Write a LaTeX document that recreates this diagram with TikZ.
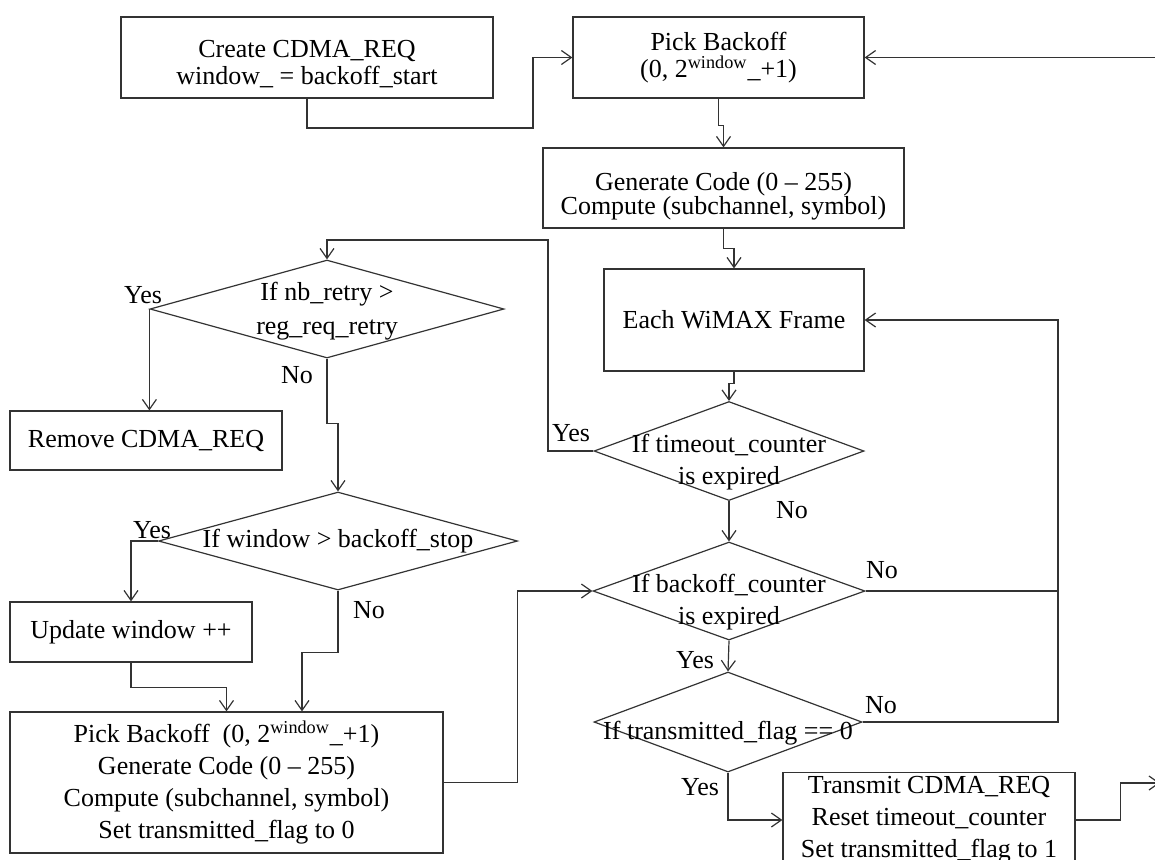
\documentclass[tikz,border=0pt]{standalone}
\usepackage{fontspec}
\setmainfont{Liberation Serif}
\usetikzlibrary{shapes.geometric, arrows.meta}

\begin{document}
\begin{tikzpicture}[x=0.5pt, y=-0.5pt,
    font=\fontsize{13}{13.5}\selectfont,
    box/.style={draw=black!80, line width=0.6pt, align=center, inner sep=2pt},
    decision/.style={draw=black!80, line width=0.6pt, diamond, inner sep=0pt},
    dtext/.style={align=center, font=\fontsize{13}{16}\selectfont},
    link/.style={draw=black!80, line width=0.6pt, -{Straight Barb[length=5pt,width=7pt]}},
    wire/.style={draw=black!80, line width=0.6pt},
    tag/.style={inner sep=0pt}]
    \useasboundingbox (0,0) rectangle (1155,859);
    \clip (0,0) rectangle (1155,859);

    % request setup
    \node[box, minimum width=186pt, minimum height=40.5pt] (create) at (307,57.5) {};
    \node[align=center] (create-t) at ([yshift=-3.5pt]create.center) {Create CDMA\_REQ\\window\_ = backoff\_start};
    \node[box, minimum width=145.5pt, minimum height=40.5pt] (pick) at (718.5,57.5) {Pick Backoff\\(0, 2\textsuperscript{window}\_+1)};
    \node[box, minimum width=180.5pt, minimum height=40pt] (gen) at (723.5,188) {};
    \node[align=center, font=\fontsize{13}{12}\selectfont] (gen-t) at ([yshift=-4pt]gen.center) {Generate Code (0 -- 255)\\Compute (subchannel, symbol)};
    \node[box, minimum width=130pt, minimum height=51pt] (frame) at (734,320) {Each WiMAX Frame};

    % checks
    \node[decision, minimum width=177pt, minimum height=49pt] (retry) at (327,309) {};
    \node[dtext, font=\fontsize{13}{17}\selectfont] (retry-t) at ([yshift=-1pt]retry.center) {If nb\_retry >\\reg\_req\_retry};
    \node[decision, minimum width=135pt, minimum height=49.5pt] (timeout) at (729,451) {};
    \node[dtext] (timeout-t) at ([yshift=-5.5pt]timeout.center) {If timeout\_counter\\is expired};
    \node[box, minimum width=136pt, minimum height=29.5pt] (remove) at (146,440.5) {Remove CDMA\_REQ};
    \node[decision, minimum width=179.5pt, minimum height=49pt] (window) at (338,541) {};
    \node[dtext] (window-t) at (window) {If window > backoff\_stop};
    \node[decision, minimum width=136pt, minimum height=49pt] (backoff) at (729,591) {};
    \node[dtext] (backoff-t) at ([yshift=-5.5pt]backoff.center) {If backoff\_counter\\is expired};
    \node[decision, minimum width=134pt, minimum height=50pt] (sent) at (728,722) {};
    \node[dtext] (sent-t) at ([yshift=-5.5pt]sent.center) {If transmitted\_flag == 0};

    % actions
    \node[box, minimum width=121pt, minimum height=30pt] (update) at (131,632) {Update window ++};
    \node[box, dtext, minimum width=216.5pt, minimum height=70.5pt] (setb) at (226.5,782.5) {Pick Backoff\ \ (0, 2\textsuperscript{window}\_+1)\\Generate Code (0 -- 255)\\Compute (subchannel, symbol)\\Set transmitted\_flag to 0};
    \node[box, dtext, minimum width=146pt, minimum height=47pt] (transmit) at (929,820) {Transmit CDMA\_REQ\\Reset timeout\_counter\\Set transmitted\_flag to 1};

    \coordinate (rail) at (1058,591);
    \coordinate (out) at (1160,783);
    \coordinate (back) at (1160,57.5);

    % connectors
    \draw[link] (create.south) |- (533,128) |- (pick.west);
    \draw[link] (back) -- (pick.east);
    \draw[link] (pick.south) -- ++(0,27) -| (gen.north);
    \draw[link] (gen.south) -- ++(0,20) -| (frame.north);
    \draw[link] (frame.south) -- ++(0,12) -| (timeout.north);
    \draw[link] (timeout.west) -| (548,240) -| (retry.north);
    \draw[link] (retry.west) -- (retry.west |- remove.north);
    \draw[link] (retry.south) -- ++(0,65) -| (window.north);
    \draw[link] (window.west) -| (update.north);
    \draw[link] (window.south) -- ++(0,62) -| (302,0 |- setb.north);
    \draw[link] (update.south) -- ++(0,25) -| (setb.north);
    \draw[link] (setb.east) -- ++(74,0) |- (backoff.west);
    \draw[link] (timeout.south) -- (backoff.north);
    \draw[link] (backoff.east) -- (rail) |- (frame.east);
    \draw[wire] (sent.east) -| (rail);
    \draw[link] (backoff.south) -- (sent.north);
    \draw[link] (sent.south) |- (transmit.west);
    \draw[link] (transmit.east) -- ++(45,0) |- (out);

    % branch labels
    \node[tag] (yes1) at (143,295) {Yes};
    \node[tag] (no1) at (297,375) {No};
    \node[tag] (yes2) at (571,433) {Yes};
    \node[tag] (no2) at (792,510) {No};
    \node[tag] (yes3) at (152,530) {Yes};
    \node[tag] (no3) at (369,610) {No};
    \node[tag] (no4) at (882,570) {No};
    \node[tag] (yes4) at (695,660) {Yes};
    \node[tag] (no5) at (881,705) {No};
    \node[tag] (yes5) at (700,787) {Yes};
\end{tikzpicture}
\end{document}
